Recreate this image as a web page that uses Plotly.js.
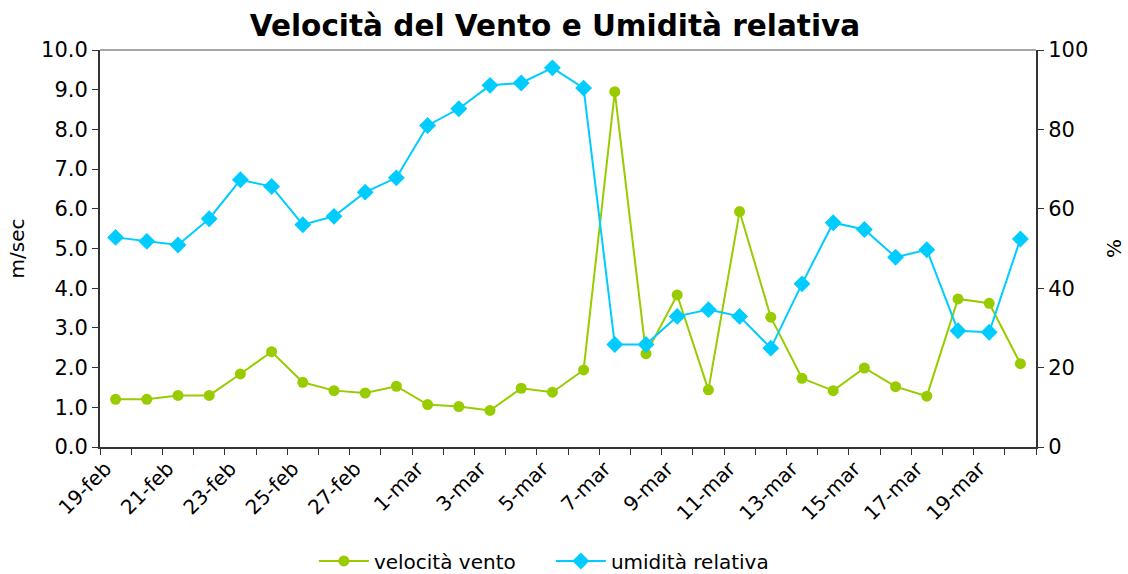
<!DOCTYPE html>
<html>
<head>
<meta charset="utf-8">
<script src="https://cdn.plot.ly/plotly-3.0.1.min.js"></script>
<style>html,body{margin:0;padding:0;background:#fff;}#chart{width:1128px;height:574px;}</style>
</head>
<body>
<div id="chart"></div>
<script>
var dates = ["19-feb","20-feb","21-feb","22-feb","23-feb","24-feb","25-feb","26-feb","27-feb","28-feb",
  "1-mar","2-mar","3-mar","4-mar","5-mar","6-mar","7-mar","8-mar","9-mar","10-mar",
  "11-mar","12-mar","13-mar","14-mar","15-mar","16-mar","17-mar","18-mar","19-mar","20-mar"];
var tickLabels = dates.map(function(d, i){ return i % 2 === 0 ? d : ""; });
var windSpeed = [1.2,1.2,1.3,1.3,1.84,2.4,1.63,1.42,1.36,1.53,
  1.07,1.02,0.92,1.48,1.38,1.94,8.95,2.35,3.83,1.44,
  5.93,3.27,1.73,1.42,1.99,1.52,1.28,3.73,3.62,2.1];
var humidity = [52.8,51.8,50.9,57.5,67.3,65.6,56.0,58.1,64.2,67.8,
  81.0,85.2,91.1,91.7,95.5,90.4,25.8,25.8,32.9,34.6,
  32.9,24.9,41.1,56.5,54.8,47.8,49.7,29.3,28.9,52.4];
var leftTicks = [0,1,2,3,4,5,6,7,8,9,10];
var rightTicks = [0,20,40,60,80,100];

var FONT = "DejaVu Sans, Verdana, sans-serif";

var traces = [
  {x: dates, y: windSpeed, name: "velocità vento", type: "scatter", mode: "lines+markers",
   line: {color: "#99CC00", width: 2}, marker: {symbol: "circle", size: 11, color: "#99CC00"}, yaxis: "y"},
  {x: dates, y: humidity, name: "umidità relativa", type: "scatter", mode: "lines+markers",
   line: {color: "#00CCFF", width: 2}, marker: {symbol: "diamond", size: 13, color: "#00CCFF"}, yaxis: "y2"}
];

var layout = {
  width: 1128, height: 574,
  margin: {l: 100, r: 92, t: 50, b: 127, autoexpand: false},
  paper_bgcolor: "#fff", plot_bgcolor: "#fff",
  font: {family: FONT, size: 20, color: "#000"},
  title: {text: "<b>Velocità del Vento e Umidità relativa</b>", x: 0.492, xanchor: "center", y: 0.955, yanchor: "middle",
          font: {family: FONT, size: 29.5, color: "#000"}},
  showlegend: true,
  legend: {orientation: "h", x: 0.2285, xanchor: "left", y: -0.287, yanchor: "middle",
           font: {family: FONT, size: 20}, itemwidth: 50, entrywidth: 172, traceorder: "normal"},
  xaxis: {type: "category", range: [-0.5, 29.5], tickmode: "array", tickvals: dates, ticktext: tickLabels,
          tickson: "boundaries", ticks: "outside", ticklen: 6, tickcolor: "#333", tickangle: -45,
          ticklabelshift: -10,
          showline: true, linecolor: "#333", linewidth: 2, showgrid: false, zeroline: false, automargin: false,
          tickfont: {family: FONT, size: 20}},
  yaxis: {range: [0, 10], tickmode: "array", tickvals: leftTicks, ticktext: leftTicks.map(function(v){return v.toFixed(1);}),
          ticks: "outside", ticklen: 6, tickcolor: "#333", showline: true, linecolor: "#333", linewidth: 2,
          showgrid: false, zeroline: false, automargin: false, tickfont: {family: FONT, size: 21},
          title: {text: "m/sec", font: {family: FONT, size: 20}, standoff: 11}},
  yaxis2: {range: [0, 100], overlaying: "y", side: "right", tickmode: "array", tickvals: rightTicks,
           ticks: "outside", ticklen: 6, tickcolor: "#333", showline: true, linecolor: "#333", linewidth: 2,
           showgrid: false, zeroline: false, automargin: false, tickfont: {family: FONT, size: 21},
           title: {text: "%", font: {family: FONT, size: 20}, standoff: 20}},
  shapes: [{type: "line", xref: "paper", yref: "paper", x0: 0, x1: 1, y0: 1, y1: 1, line: {color: "#888", width: 1.5}}]
};

Plotly.newPlot("chart", traces, layout, {displayModeBar: false, responsive: false});
</script>
</body>
</html>
